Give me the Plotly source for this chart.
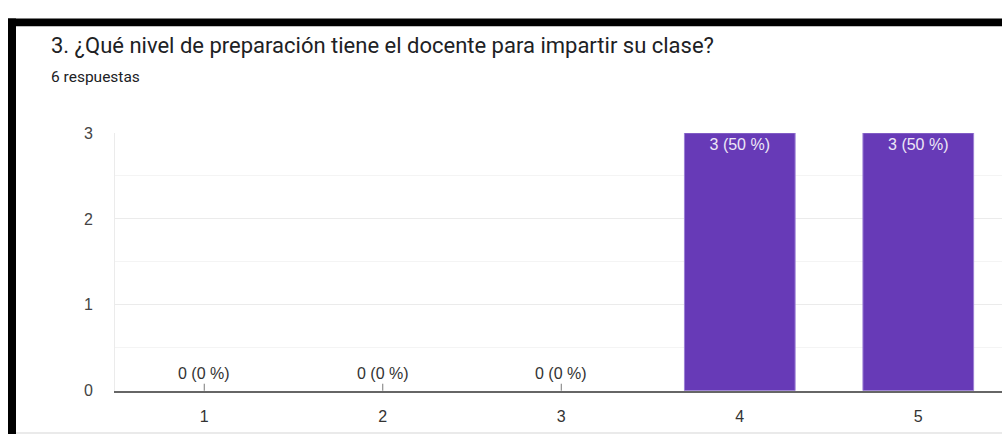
import plotly.graph_objects as go

# datos de la pregunta
categorias = ["1", "2", "3", "4", "5"]
respuestas = [0, 0, 0, 3, 3]
titulo = "3. ¿Qué nivel de preparación tiene el docente para impartir su clase?"
subtitulo = "6 respuestas"

W, H = 1002, 443
total = sum(respuestas)
etiquetas = [f"{c} ({c / total * 100:.0f} %)" for c in respuestas]
fuente_graf = "Liberation Sans, Arial"


def px_x(v):
    return v / W


def px_y(v):
    return 1 - v / H


fig = go.Figure(go.Bar(
    x=categorias,
    y=respuestas,
    width=0.62,
    marker=dict(color="#673ab7",
                line=dict(color="#9b7fd4", width=[1 if c > 0 else 0 for c in respuestas])),
    text=[e if c > 0 else "" for c, e in zip(respuestas, etiquetas)],
    textposition="inside",
    insidetextanchor="end",
    textfont=dict(family=fuente_graf, size=16, color="#ede7f6"),
    hoverinfo="skip",
))

# etiquetas de las barras en cero, con su pequeña línea
for i, (c, e) in enumerate(zip(respuestas, etiquetas)):
    if c == 0:
        fig.add_annotation(
            x=i, y=0, text=e, showarrow=True, arrowhead=0,
            arrowcolor="#7a7a7a", arrowwidth=1, ax=0, ay=-17,
            font=dict(family=fuente_graf, size=16, color="#333333"),
        )

# título y subtítulo
fig.add_annotation(
    x=px_x(49), y=px_y(39), xref="paper", yref="paper", text=titulo,
    showarrow=False, xanchor="left", yanchor="middle",
    font=dict(family="Roboto", size=22, color="#202124"),
)
fig.add_annotation(
    x=px_x(49), y=px_y(72), xref="paper", yref="paper", text=subtitulo,
    showarrow=False, xanchor="left", yanchor="middle",
    font=dict(family="Roboto", size=15.5, color="#202124"),
)

# marco negro de la captura
fig.add_shape(type="rect", xref="paper", yref="paper", x0=px_x(8), x1=1,
              y0=px_y(19), y1=px_y(11), fillcolor="black", line_width=0)
fig.add_shape(type="rect", xref="paper", yref="paper", x0=px_x(8), x1=px_x(16),
              y0=0, y1=px_y(11), fillcolor="black", line_width=0)
fig.add_shape(type="line", xref="paper", yref="paper", x0=px_x(16), x1=1,
              y0=px_y(442), y1=px_y(442), line=dict(color="#e3e3e3", width=1.5))

fig.update_layout(
    margin=dict(l=0, r=0, t=0, b=0),
    plot_bgcolor="white", paper_bgcolor="white",
    showlegend=False,
    font=dict(family=fuente_graf),
    xaxis=dict(
        type="category",
        domain=[px_x(115), 1],
        range=[-0.5, 4.469],
        showgrid=False,
        showline=True, linecolor="#666666", linewidth=1.5,
        ticks="", ticklabelstandoff=10,
        tickfont=dict(family=fuente_graf, size=16, color="#333333"),
        fixedrange=True,
    ),
    yaxis=dict(
        domain=[px_y(398), px_y(130)],
        range=[0, 3],
        dtick=1,
        showgrid=True, gridcolor="#ebebeb", gridwidth=1,
        minor=dict(dtick=0.5, showgrid=True, gridcolor="#f4f4f4"),
        zeroline=False,
        showline=True, linecolor="#ebebeb", linewidth=1,
        ticks="", ticklabelstandoff=18,
        tickfont=dict(family=fuente_graf, size=16, color="#444444"),
        fixedrange=True,
    ),
)

fig.write_html(
    "out.html",
    config={"displayModeBar": False, "responsive": True},
    default_width="100vw",
    default_height="100vh",
    post_script=(
        "var d=document.getElementById('{plot_id}');"
        "d.style.position='fixed';d.style.left='0';d.style.top='0';"
        "document.body.style.margin='0';"
        "document.documentElement.style.overflow='hidden';"
        "Plotly.Plots.resize(d);"
    ),
)
